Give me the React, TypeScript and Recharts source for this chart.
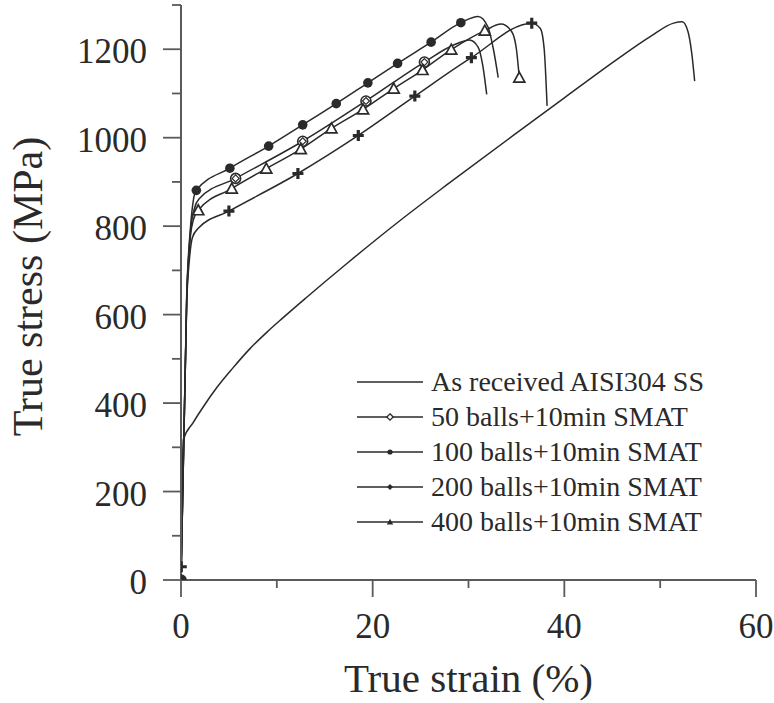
import React from 'react';
import { ComposedChart, Line, XAxis, YAxis, Legend } from 'recharts';

const FONT = '"Liberation Serif", "Times New Roman", serif';
const INK = '#2a2a2a';
const AXIS = '#5a5a5a';

const xTicks = [0, 10, 20, 30, 40, 50, 60];
const yTicks = [0, 100, 200, 300, 400, 500, 600, 700, 800, 900, 1000, 1100, 1200, 1300];
const xLabelTicks = [0, 20, 40, 60];
const yLabelTicks = [0, 200, 400, 600, 800, 1000, 1200];

const names = [
  'As received AISI304 SS',
  '50 balls+10min SMAT',
  '100 balls+10min SMAT',
  '200 balls+10min SMAT',
  '400 balls+10min SMAT',
];

// [true strain %, true stress MPa]
const asReceived: [number, number][] = [
  [0, 0], [0.1, 150], [0.24, 317], [1.27, 356], [2.4, 394], [3.7, 434], [5.4, 479],
  [7.15, 522], [9, 561], [10.6, 592], [13, 637], [17.5, 719], [22.7, 810], [27.9, 896], [35.1, 1012],
  [40, 1090], [45.5, 1177], [49, 1229], [51.4, 1259], [52.3, 1262], [52.9, 1240], [53.3, 1190], [53.6, 1128],
];
const balls50: [number, number][] = [
  [0, 0], [0.6, 640], [1.0, 790], [1.4, 840], [1.9, 862], [5.7, 908], [12.7, 992], [19.3, 1083],
  [25.4, 1171], [28.5, 1210], [30.1, 1221], [31.0, 1205], [31.5, 1162], [31.9, 1098],
];
const balls100: [number, number][] = [
  [0, 0], [0.6, 650], [1.0, 800], [1.3, 860], [1.6, 881], [5.1, 931], [9.15, 981], [12.7, 1029],
  [16.2, 1077], [19.5, 1124], [22.6, 1168], [26.1, 1216], [29.2, 1260], [31.0, 1274], [32.0, 1252],
  [32.6, 1200], [33.1, 1136],
];
const balls200: [number, number][] = [
  [0, 0], [0.03, 30], [0.6, 630], [0.9, 730], [1.2, 775], [1.8, 795], [5.0, 834], [12.2, 919],
  [18.5, 1005], [24.4, 1094], [30.3, 1181], [36.6, 1259], [37.5, 1247], [37.9, 1200], [38.2, 1072],
];
const balls400: [number, number][] = [
  [0, 0], [0.6, 640], [1.0, 780], [1.3, 815], [1.8, 836], [5.3, 885], [8.9, 930], [12.5, 974],
  [15.7, 1021], [19.0, 1064], [22.2, 1111], [25.2, 1153], [28.2, 1199], [31.7, 1242], [33.4, 1257],
  [34.5, 1240], [35.0, 1200], [35.3, 1136],
];

// strain values at which a symbol is drawn
const markers50 = [0, 5.7, 12.7, 19.3, 25.4];
const markers100 = [0, 1.6, 5.1, 9.15, 12.7, 16.2, 19.5, 22.6, 26.1, 29.2];
const markers200 = [0.03, 5.0, 12.2, 18.5, 24.4, 30.3, 36.6];
const markers400 = [1.8, 5.3, 8.9, 12.5, 15.7, 19.0, 22.2, 25.2, 28.2, 31.7, 35.3];

const toRows = (pts: [number, number][]) => pts.map(([x, y]) => ({ x, y }));

type Shape = 'none' | 'diamondCircle' | 'circle' | 'cross' | 'triangle';

const PlotMarker = ({ shape, cx, cy }: { shape: Shape; cx: number; cy: number }) => {
  if (shape === 'circle') return <circle cx={cx} cy={cy} r={4.8} fill={INK} />;
  if (shape === 'diamondCircle')
    return (
      <g>
        <circle cx={cx} cy={cy} r={5} fill="#fff" stroke={INK} strokeWidth={1.6} />
        <path d={`M${cx},${cy - 3.5} L${cx + 3.5},${cy} L${cx},${cy + 3.5} L${cx - 3.5},${cy} Z`} fill="none" stroke={INK} strokeWidth={1.2} />
      </g>
    );
  if (shape === 'triangle')
    return <path d={`M${cx},${cy - 5.5} L${cx + 5.5},${cy + 4.5} L${cx - 5.5},${cy + 4.5} Z`} fill="#fff" stroke={INK} strokeWidth={1.7} />;
  if (shape === 'cross')
    return <path d={`M${cx - 5.5},${cy} H${cx + 5.5} M${cx},${cy - 5.5} V${cy + 5.5}`} stroke={INK} strokeWidth={3.2} />;
  return null;
};

const LegendMarker = ({ shape, cx, cy }: { shape: Shape; cx: number; cy: number }) => {
  if (shape === 'circle') return <circle cx={cx} cy={cy} r={2.6} fill={INK} />;
  if (shape === 'diamondCircle')
    return <path d={`M${cx},${cy - 3.2} L${cx + 3.2},${cy} L${cx},${cy + 3.2} L${cx - 3.2},${cy} Z`} fill="#fff" stroke={INK} strokeWidth={1.3} />;
  if (shape === 'cross')
    return <path d={`M${cx},${cy - 3} L${cx + 3},${cy} L${cx},${cy + 3} L${cx - 3},${cy} Z`} fill={INK} />;
  if (shape === 'triangle')
    return <path d={`M${cx},${cy - 3.2} L${cx + 3.2},${cy + 2.4} L${cx - 3.2},${cy + 2.4} Z`} fill={INK} />;
  return null;
};

const series: { name: string; data: [number, number][]; markers: number[]; shape: Shape }[] = [
  { name: names[0], data: asReceived, markers: [], shape: 'none' },
  { name: names[1], data: balls50, markers: markers50, shape: 'diamondCircle' },
  { name: names[2], data: balls100, markers: markers100, shape: 'circle' },
  { name: names[3], data: balls200, markers: markers200, shape: 'cross' },
  { name: names[4], data: balls400, markers: markers400, shape: 'triangle' },
];

const makeDot = (markers: number[], shape: Shape) => (props: any) => {
  const { cx, cy, payload, index } = props;
  if (cx == null || cy == null || !markers.includes(payload.x)) return <g key={`e${index}`} />;
  return (
    <g key={`m${index}`}>
      <PlotMarker shape={shape} cx={cx} cy={cy} />
    </g>
  );
};

const YTick = (props: any) => {
  const { x, y, payload } = props;
  const v = payload.value;
  const major = v % 200 === 0;
  return (
    <g>
      <line x1={x - (major ? 18 : 9)} x2={x} y1={y} y2={y} stroke={AXIS} strokeWidth={1.8} />
      {major && yLabelTicks.includes(v) && (
        <text x={x - 34} y={y + 14} textAnchor="end" fontFamily={FONT} fontSize={35} fill={INK}>
          {v}
        </text>
      )}
    </g>
  );
};

const XTick = (props: any) => {
  const { x, y, payload } = props;
  const v = payload.value;
  const major = v % 20 === 0;
  return (
    <g>
      <line x1={x} x2={x} y1={y} y2={y + (major ? 17 : 8)} stroke={AXIS} strokeWidth={1.8} />
      {major && xLabelTicks.includes(v) && (
        <text x={x} y={y + 58} textAnchor="middle" fontFamily={FONT} fontSize={35} fill={INK}>
          {v}
        </text>
      )}
    </g>
  );
};

const XTitle = (props: any) => {
  const vb = props.viewBox || {};
  return (
    <text x={vb.x + vb.width / 2} y={vb.y + 112} textAnchor="middle" fontFamily={FONT} fontSize={41} fill={INK}>
      True strain (%)
    </text>
  );
};

const YTitle = (props: any) => {
  const vb = props.viewBox || {};
  const cx = 42;
  const cy = vb.y + vb.height / 2 - 6;
  return (
    <text x={cx} y={cy} transform={`rotate(-90, ${cx}, ${cy})`} textAnchor="middle" fontFamily={FONT} fontSize={42} fill={INK}>
      True stress (MPa)
    </text>
  );
};

const LegendContent = () => (
  <div style={{ fontFamily: FONT, color: INK }}>
    {series.map((s) => (
      <div key={s.name} style={{ display: 'flex', alignItems: 'center', height: 35.2 }}>
        <svg width={66} height={20} style={{ display: 'block' }}>
          <line x1={0} x2={66} y1={10} y2={10} stroke={INK} strokeWidth={1.5} />
          <LegendMarker shape={s.shape} cx={33} cy={10} />
        </svg>
        <span style={{ marginLeft: 8, fontSize: 28, lineHeight: '28px', whiteSpace: 'nowrap' }}>{s.name}</span>
      </div>
    ))}
  </div>
);

export default function App() {
  return (
    <div style={{ width: 774, height: 703, background: '#fff' }}>
      <style>{'body{margin:0;background:#fff}'}</style>
      <ComposedChart width={774} height={703} margin={{ top: 5, right: 18, bottom: 0, left: 0 }}>
        <XAxis
          type="number"
          dataKey="x"
          domain={[0, 60]}
          ticks={xTicks}
          interval={0}
          height={123}
          tickSize={0}
          tickMargin={0}
          tickLine={false}
          axisLine={{ stroke: AXIS, strokeWidth: 2 }}
          tick={<XTick />}
          label={<XTitle />}
          allowDataOverflow
        />
        <YAxis
          type="number"
          domain={[0, 1300]}
          ticks={yTicks}
          interval={0}
          width={181}
          tickSize={0}
          tickMargin={0}
          tickLine={false}
          axisLine={{ stroke: AXIS, strokeWidth: 2 }}
          tick={<YTick />}
          label={<YTitle />}
          allowDataOverflow
        />
        <Legend
          layout="vertical"
          align="center"
          verticalAlign="middle"
          content={<LegendContent />}
          wrapperStyle={{ left: 357, top: 364, width: 380, height: 180 }}
        />
        {series.map((s) => (
          <Line
            key={s.name}
            name={s.name}
            data={toRows(s.data)}
            dataKey="y"
            type="monotone"
            stroke={INK}
            strokeWidth={1.5}
            dot={makeDot(s.markers, s.shape)}
            activeDot={false}
            isAnimationActive={false}
          />
        ))}
      </ComposedChart>
    </div>
  );
}
